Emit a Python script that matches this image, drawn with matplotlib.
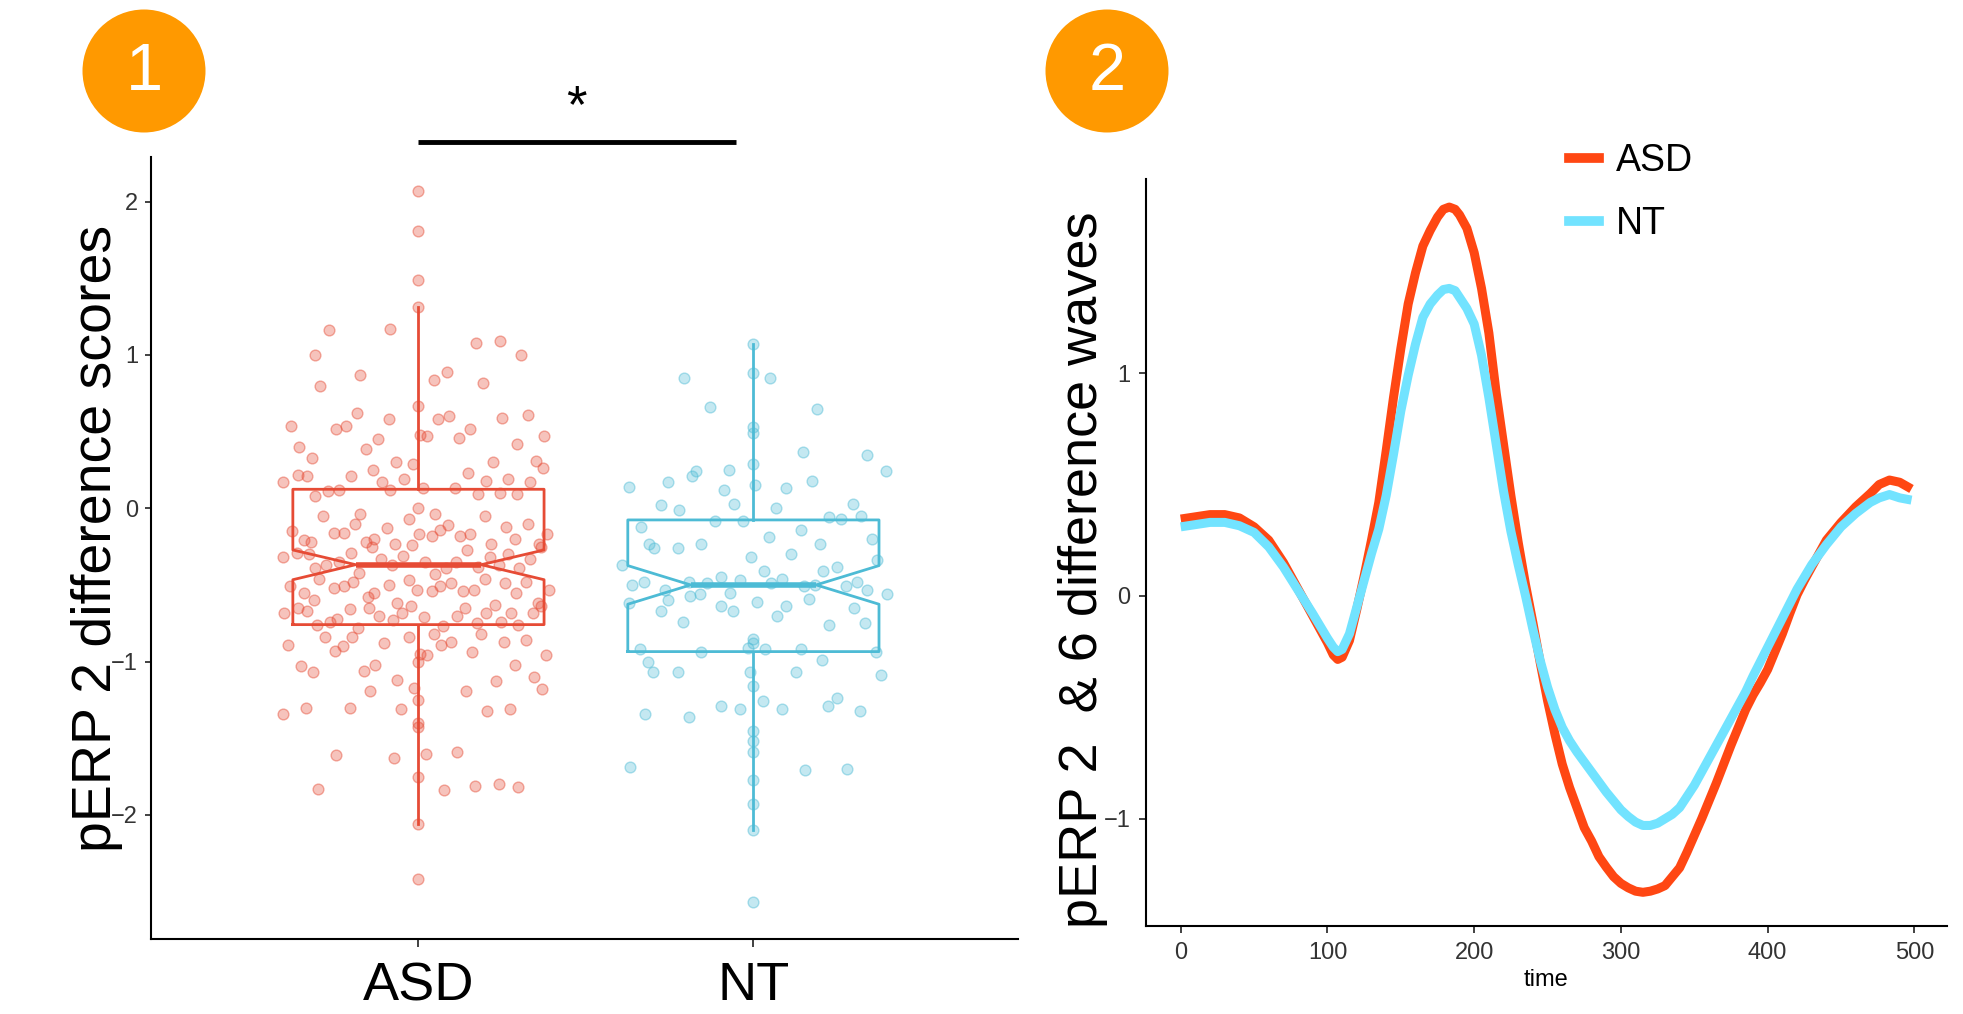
import matplotlib
matplotlib.use("Agg")
import matplotlib.pyplot as plt
from matplotlib.patches import Ellipse
from matplotlib.lines import Line2D
import numpy as np

plt.rcParams['font.family'] = ['Liberation Sans', 'DejaVu Sans']

# ---------------- data: panel 1 ----------------
groups = ["ASD", "NT"]
# (jitter offset, value)
asd_points = [
    (0, 2.07), (0, 1.81), (0, 1.49), (0, 1.31), (-0.267, 1.16), (-0.084, 1.17), (-0.308, 1.00),
    (0.173, 1.08), (0.243, 1.09), (0.306, 1.00), (-0.176, 0.87), (-0.294, 0.80), (0.046, 0.84),
    (0.084, 0.89), (0.193, 0.82), (0, 0.67), (-0.182, 0.62), (-0.088, 0.58), (0.057, 0.58),
    (0.091, 0.60), (0.249, 0.59), (0.327, 0.61),
    (-0.382, 0.54), (-0.246, 0.52), (-0.216, 0.54), (0.006, 0.48), (0.026, 0.47), (0.154, 0.52),
    (0.122, 0.46), (0.376, 0.47), (-0.121, 0.45), (-0.357, 0.40), (-0.157, 0.39), (-0.318, 0.33),
    (0.295, 0.42), (-0.068, 0.30), (-0.017, 0.29), (0.223, 0.30), (0.352, 0.31), (0.373, 0.26),
    (-0.136, 0.25), (-0.361, 0.22), (-0.333, 0.21), (0.149, 0.23), (-0.202, 0.21), (-0.405, 0.17),
    (-0.109, 0.17), (-0.043, 0.19), (0.203, 0.18), (0.267, 0.19), (0.332, 0.17), (-0.270, 0.11),
    (-0.237, 0.12), (-0.084, 0.12), (0.014, 0.13), (0.108, 0.13), (-0.308, 0.08), (0.179, 0.09),
    (0.244, 0.10), (0.295, 0.09),
    (0, 0.00), (-0.176, -0.04), (-0.286, -0.05), (-0.029, -0.07), (0.050, -0.04), (0.198, -0.05),
    (-0.190, -0.10), (0.089, -0.11), (0.063, -0.14), (-0.095, -0.13), (0.262, -0.12), (0.326, -0.10),
    (-0.377, -0.15), (-0.252, -0.16), (-0.222, -0.16), (0.003, -0.17), (0.039, -0.18), (0.124, -0.18),
    (0.155, -0.17), (0.385, -0.17), (-0.342, -0.21), (-0.321, -0.22), (-0.134, -0.20), (-0.158, -0.22),
    (-0.138, -0.25), (-0.069, -0.23), (-0.019, -0.24), (0.288, -0.20), (0.217, -0.23), (0.360, -0.23),
    (0.365, -0.25), (0.145, -0.27), (-0.405, -0.32), (-0.362, -0.29), (-0.327, -0.30), (-0.200, -0.29),
    (-0.047, -0.31), (0.215, -0.32), (0.268, -0.30), (0.333, -0.33), (-0.111, -0.33), (-0.275, -0.37),
    (-0.309, -0.39), (-0.237, -0.35), (-0.079, -0.37), (0.021, -0.35), (0.083, -0.39), (0.113, -0.35),
    (0.177, -0.38), (0.240, -0.37), (0.300, -0.39), (-0.178, -0.42), (0.048, -0.43), (-0.298, -0.46),
    (-0.196, -0.48), (-0.027, -0.47), (0.198, -0.46), (0.320, -0.48), (-0.384, -0.51), (-0.252, -0.52),
    (-0.222, -0.51), (-0.089, -0.50), (-0.003, -0.53), (0.040, -0.54), (0.063, -0.51), (0.098, -0.49),
    (0.132, -0.54), (0.165, -0.53), (0.258, -0.49), (0.290, -0.55), (0.391, -0.53), (-0.342, -0.55),
    (-0.132, -0.55), (-0.152, -0.58), (-0.312, -0.60), (-0.065, -0.62), (-0.021, -0.64), (-0.148, -0.65),
    (0.229, -0.63), (0.357, -0.62), (0.365, -0.64), (-0.401, -0.68), (-0.360, -0.65), (-0.333, -0.67),
    (-0.203, -0.66), (-0.117, -0.70), (-0.050, -0.68), (0.016, -0.71), (0.115, -0.70), (0.138, -0.65),
    (0.202, -0.68), (0.277, -0.68), (0.343, -0.68), (-0.244, -0.72), (-0.265, -0.74), (-0.076, -0.73),
    (-0.303, -0.76), (-0.180, -0.78), (0.074, -0.77), (0.174, -0.75), (0.245, -0.74), (0.298, -0.76),
    (0.046, -0.82), (0.188, -0.82), (-0.279, -0.84), (-0.199, -0.84), (-0.027, -0.84), (-0.390, -0.89),
    (-0.104, -0.88), (0.068, -0.89), (0.096, -0.87), (0.256, -0.87), (0.322, -0.86), (-0.249, -0.93),
    (-0.224, -0.90), (0.005, -0.95), (0.026, -0.96), (0.159, -0.94), (0.382, -0.96),
    (0, -1.00), (-0.350, -1.03), (-0.316, -1.07), (-0.164, -1.06), (-0.129, -1.02), (0.288, -1.02),
    (-0.063, -1.12), (-0.013, -1.17), (-0.146, -1.19), (0.142, -1.19), (0.231, -1.13), (0.345, -1.10),
    (0.369, -1.18), (0, -1.25), (-0.404, -1.34), (-0.337, -1.30), (-0.205, -1.30), (-0.052, -1.31),
    (0.206, -1.32), (0.274, -1.31), (0, -1.40), (0, -1.43), (-0.246, -1.61), (-0.073, -1.63),
    (0.023, -1.60), (0.115, -1.59), (0, -1.75), (-0.299, -1.83), (0.077, -1.84), (0.170, -1.81),
    (0.240, -1.80), (0.298, -1.82), (0, -2.06), (0, -2.42),
]
nt_points = [
    (0, 1.07), (0, 0.88), (-0.206, 0.85), (0.049, 0.85), (-0.129, 0.66), (0.190, 0.65), (0, 0.53),
    (0, 0.49), (0.149, 0.37), (0.339, 0.35), (0, 0.29), (-0.172, 0.24), (-0.184, 0.21), (-0.073, 0.25),
    (0.397, 0.24), (0.175, 0.18), (-0.371, 0.14), (-0.254, 0.17), (0.004, 0.15), (-0.089, 0.12),
    (0.098, 0.13), (-0.275, 0.02), (-0.223, -0.01), (-0.059, 0.03), (0.067, 0.00), (0.297, 0.03),
    (0.227, -0.06), (0.262, -0.07), (0.320, -0.05), (-0.116, -0.08), (-0.030, -0.08),
    (-0.336, -0.12), (0.141, -0.14), (0.047, -0.19), (-0.312, -0.23), (-0.296, -0.26), (-0.225, -0.26),
    (-0.157, -0.23), (0.199, -0.23), (0.353, -0.20), (-0.007, -0.32), (0.112, -0.30), (-0.391, -0.37),
    (0.369, -0.34), (0.250, -0.38), (0.033, -0.41), (0.209, -0.41), (-0.096, -0.45), (-0.040, -0.47),
    (0.085, -0.46), (-0.361, -0.50), (-0.328, -0.48), (-0.193, -0.48), (-0.140, -0.49), (0.053, -0.49),
    (0.150, -0.51), (0.183, -0.50), (0.275, -0.51), (0.308, -0.48), (0.340, -0.53), (0.398, -0.56),
    (-0.265, -0.53), (-0.190, -0.57), (-0.159, -0.56), (-0.069, -0.55), (-0.371, -0.62), (-0.256, -0.60),
    (0.166, -0.59), (0.012, -0.61), (-0.096, -0.64), (-0.061, -0.67), (0.097, -0.64), (0.300, -0.65),
    (-0.275, -0.67), (0.071, -0.70), (-0.211, -0.74), (0.226, -0.76), (0.333, -0.75), (0, -0.85),
    (0, -0.88), (-0.016, -0.91), (-0.339, -0.92), (-0.157, -0.94), (0.034, -0.92), (0.143, -0.92),
    (0.366, -0.94), (-0.314, -1.00), (0.204, -0.99), (-0.300, -1.07), (-0.226, -1.07), (-0.010, -1.07),
    (0.127, -1.07), (0.381, -1.09), (0, -1.16), (-0.096, -1.29), (-0.040, -1.31), (0.029, -1.26),
    (0.084, -1.31), (0.224, -1.29), (0.251, -1.24), (0.319, -1.32), (-0.323, -1.34), (-0.193, -1.36),
    (0, -1.45), (0, -1.52), (0, -1.59), (-0.367, -1.69), (0.155, -1.71), (0.279, -1.70), (0, -1.77),
    (0, -1.93), (0, -2.10), (0, -2.57),
]
# box statistics: ASD, NT
box_median = [-0.368, -0.50]
box_q1 = [-0.759, -0.935]
box_q3 = [0.124, -0.076]
box_whislo = [-2.06, -2.10]
box_whishi = [1.31, 1.07]
box_notch_lo = [-0.466, -0.626]
box_notch_hi = [-0.272, -0.374]
y_ticks_1 = [-2, -1, 0, 1, 2]

# ---------------- data: panel 2 ----------------
time = [0, 10, 20, 30, 40, 50, 60, 70, 80, 90, 100,
        104, 107, 110,
        115, 120, 125, 130, 135, 140, 145, 150, 155, 160, 165, 170, 175,
        179, 183, 187,
        190, 195, 200, 205, 210, 215, 220, 225, 230, 235,
        240, 245, 250, 255, 260, 265, 270, 275, 280, 285,
        290, 295, 300, 305, 310, 315, 320, 325, 330, 335,
        340, 345, 350, 355, 360, 365, 370, 375, 380, 385,
        390, 395, 400, 405, 410, 415, 420, 425, 430, 435,
        440, 445, 450, 455, 460, 465, 470,
        476, 483, 490, 498]
asd_wave = [0.345, 0.355, 0.365, 0.365, 0.35, 0.31, 0.25, 0.15, 0.03, -0.09, -0.21,
            -0.265, -0.285, -0.275,
            -0.20, -0.06, 0.09, 0.25, 0.42, 0.65, 0.89, 1.11, 1.31, 1.45, 1.57, 1.64, 1.70,
            1.735, 1.745, 1.735,
            1.71, 1.65, 1.54, 1.38, 1.18, 0.91, 0.68, 0.45, 0.24, 0.05,
            -0.12, -0.30, -0.47, -0.62, -0.755, -0.86, -0.95, -1.04, -1.10, -1.17,
            -1.217, -1.26, -1.29, -1.31, -1.325, -1.33, -1.325, -1.315, -1.30, -1.26,
            -1.22, -1.15, -1.075, -1.00, -0.92, -0.84, -0.755, -0.67, -0.59, -0.51,
            -0.445, -0.39, -0.33, -0.25, -0.17, -0.08, 0.005, 0.07, 0.13, 0.19,
            0.25, 0.29, 0.33, 0.365, 0.40, 0.43, 0.46,
            0.50, 0.52, 0.51, 0.48]
nt_wave = [0.31, 0.32, 0.33, 0.33, 0.315, 0.285, 0.22, 0.13, 0.025, -0.08, -0.19,
           -0.23, -0.25, -0.24,
           -0.17, -0.05, 0.07, 0.19, 0.30, 0.45, 0.635, 0.83, 0.99, 1.13, 1.25, 1.31, 1.35,
           1.375, 1.38, 1.37,
           1.34, 1.29, 1.22, 1.08, 0.89, 0.68, 0.47, 0.29, 0.14, 0.00,
           -0.15, -0.29, -0.41, -0.51, -0.59, -0.65, -0.70, -0.745, -0.79, -0.835,
           -0.88, -0.92, -0.96, -0.99, -1.015, -1.03, -1.03, -1.02, -1.00, -0.98,
           -0.95, -0.90, -0.85, -0.79, -0.73, -0.67, -0.61, -0.55, -0.49, -0.43,
           -0.36, -0.295, -0.23, -0.165, -0.10, -0.035, 0.03, 0.085, 0.14, 0.185,
           0.23, 0.27, 0.31, 0.34, 0.37, 0.395, 0.42,
           0.44, 0.455, 0.44, 0.43]
x_ticks_2 = [0, 100, 200, 300, 400, 500]
y_ticks_2 = [-1, 0, 1]

# ---------------- styling ----------------
W, H = 1963, 1014
fig = plt.figure(figsize=(W / 100, H / 100), dpi=100)

c_asd_box = "#E64B35"
c_nt_box = "#4DBBD5"
c_asd_line = "#FF4713"
c_nt_line = "#72E3FF"
c_badge = "#FF9900"
tick_col = "#333333"


def fx(px):
    return px / W


def fy(py):
    return 1 - py / H


# ---------------- panel 1 ----------------
ax1 = fig.add_axes([fx(150.5), fy(939), fx(1018) - fx(150.5), fy(156.5) - fy(939)])
for pos, pts, col in [(1, asd_points, c_asd_box), (2, nt_points, c_nt_box)]:
    jit = np.array([p[0] for p in pts])
    val = np.array([p[1] for p in pts])
    ax1.scatter(pos + jit, val, s=60, facecolor=matplotlib.colors.to_rgba(col, 0.33),
                edgecolor=matplotlib.colors.to_rgba(col, 0.45), linewidth=1.0, zorder=1)

stats = []
for i, g in enumerate(groups):
    stats.append(dict(label=g, med=box_median[i], q1=box_q1[i], q3=box_q3[i],
                      whislo=box_whislo[i], whishi=box_whishi[i],
                      cilo=box_notch_lo[i], cihi=box_notch_hi[i], fliers=[]))
bp = ax1.bxp(stats, positions=[1, 2], widths=0.75, shownotches=True, showcaps=False,
             showfliers=False, patch_artist=False)
for i, col in enumerate([c_asd_box, c_nt_box]):
    bp['boxes'][i].set(color=col, linewidth=2.0, zorder=3)
    bp['medians'][i].set(color=col, linewidth=4.0, zorder=3, solid_capstyle='butt')
    for w in bp['whiskers'][2 * i:2 * i + 2]:
        w.set(color=col, linewidth=2.0, zorder=3)

ax1.set_xlim(0.2, 2.79)
ax1.set_ylim(-2.81, 2.295)
ax1.set_xticks([1, 2])
ax1.set_xticklabels(groups, fontsize=39, color="black")
ax1.set_yticks(y_ticks_1)
ax1.set_yticklabels([str(v).replace('-', '\u2212') for v in y_ticks_1], fontsize=17, color=tick_col)
ax1.tick_params(axis='x', length=6, width=1.3, pad=10, color='#333333')
ax1.tick_params(axis='y', length=4, width=1.3, pad=5, color='#333333')
for s in ['top', 'right']:
    ax1.spines[s].set_visible(False)
for s in ['left', 'bottom']:
    ax1.spines[s].set_linewidth(1.5)
ax1.set_ylabel("pERP 2 difference scores", fontsize=40)
ax1.yaxis.set_label_coords(-0.032, 0.5125)

# significance bar
ax1.plot([1.0, 1.947], [2.39, 2.39], color="black", lw=3.5, clip_on=False, solid_capstyle='butt')
ax1.text(1.47, 2.61, "*", fontsize=38, ha="center", va="center", clip_on=False)

# ---------------- panel 2 ----------------
ax2 = fig.add_axes([fx(1145.5), fy(926.4), fx(1946.7) - fx(1145.5), fy(179) - fy(926.4)])
ax2.plot(time, asd_wave, color=c_asd_line, lw=6.5, label="ASD", solid_capstyle='butt',
         solid_joinstyle='round', zorder=2)
ax2.plot(time, nt_wave, color=c_nt_line, lw=6.5, label="NT", solid_capstyle='butt',
         solid_joinstyle='round', zorder=3)
ax2.set_xlim(-24, 522)
ax2.set_ylim(-1.483, 1.871)
ax2.set_xticks(x_ticks_2)
ax2.set_xticklabels([str(v) for v in x_ticks_2], fontsize=17, color=tick_col)
ax2.set_yticks(y_ticks_2)
ax2.set_yticklabels([str(v).replace('-', '\u2212') for v in y_ticks_2], fontsize=17, color=tick_col)
ax2.tick_params(axis='both', length=5, width=1.3, pad=6, color='#333333')
for s in ['top', 'right']:
    ax2.spines[s].set_visible(False)
for s in ['left', 'bottom']:
    ax2.spines[s].set_linewidth(1.5)
ax2.set_xlabel("time", fontsize=17, labelpad=4)
ax2.set_ylabel("pERP 2  & 6 difference waves", fontsize=39)
ax2.yaxis.set_label_coords(-0.0468, 0.477)

leg = ax2.legend(handles=[Line2D([], [], color=c_asd_line, lw=7),
                          Line2D([], [], color=c_nt_line, lw=7)],
                 labels=["ASD", "NT"], loc="upper left", frameon=False, fontsize=27,
                 bbox_to_anchor=(fx(1569), fy(143)), bbox_transform=fig.transFigure,
                 borderaxespad=0, borderpad=0, handlelength=0.8, handletextpad=0.45,
                 labelspacing=0.72)

# ---------------- badges ----------------
for cx, label in [(144, "1"), (1107, "2")]:
    fig.add_artist(Ellipse((fx(cx), fy(71)), 123 / W, 123 / H, transform=fig.transFigure,
                           facecolor=c_badge, edgecolor="none"))
    fig.text(fx(cx), fy(73), label, color="white", fontsize=48, ha="center", va="center")

fig.savefig("out.png", dpi=100)
